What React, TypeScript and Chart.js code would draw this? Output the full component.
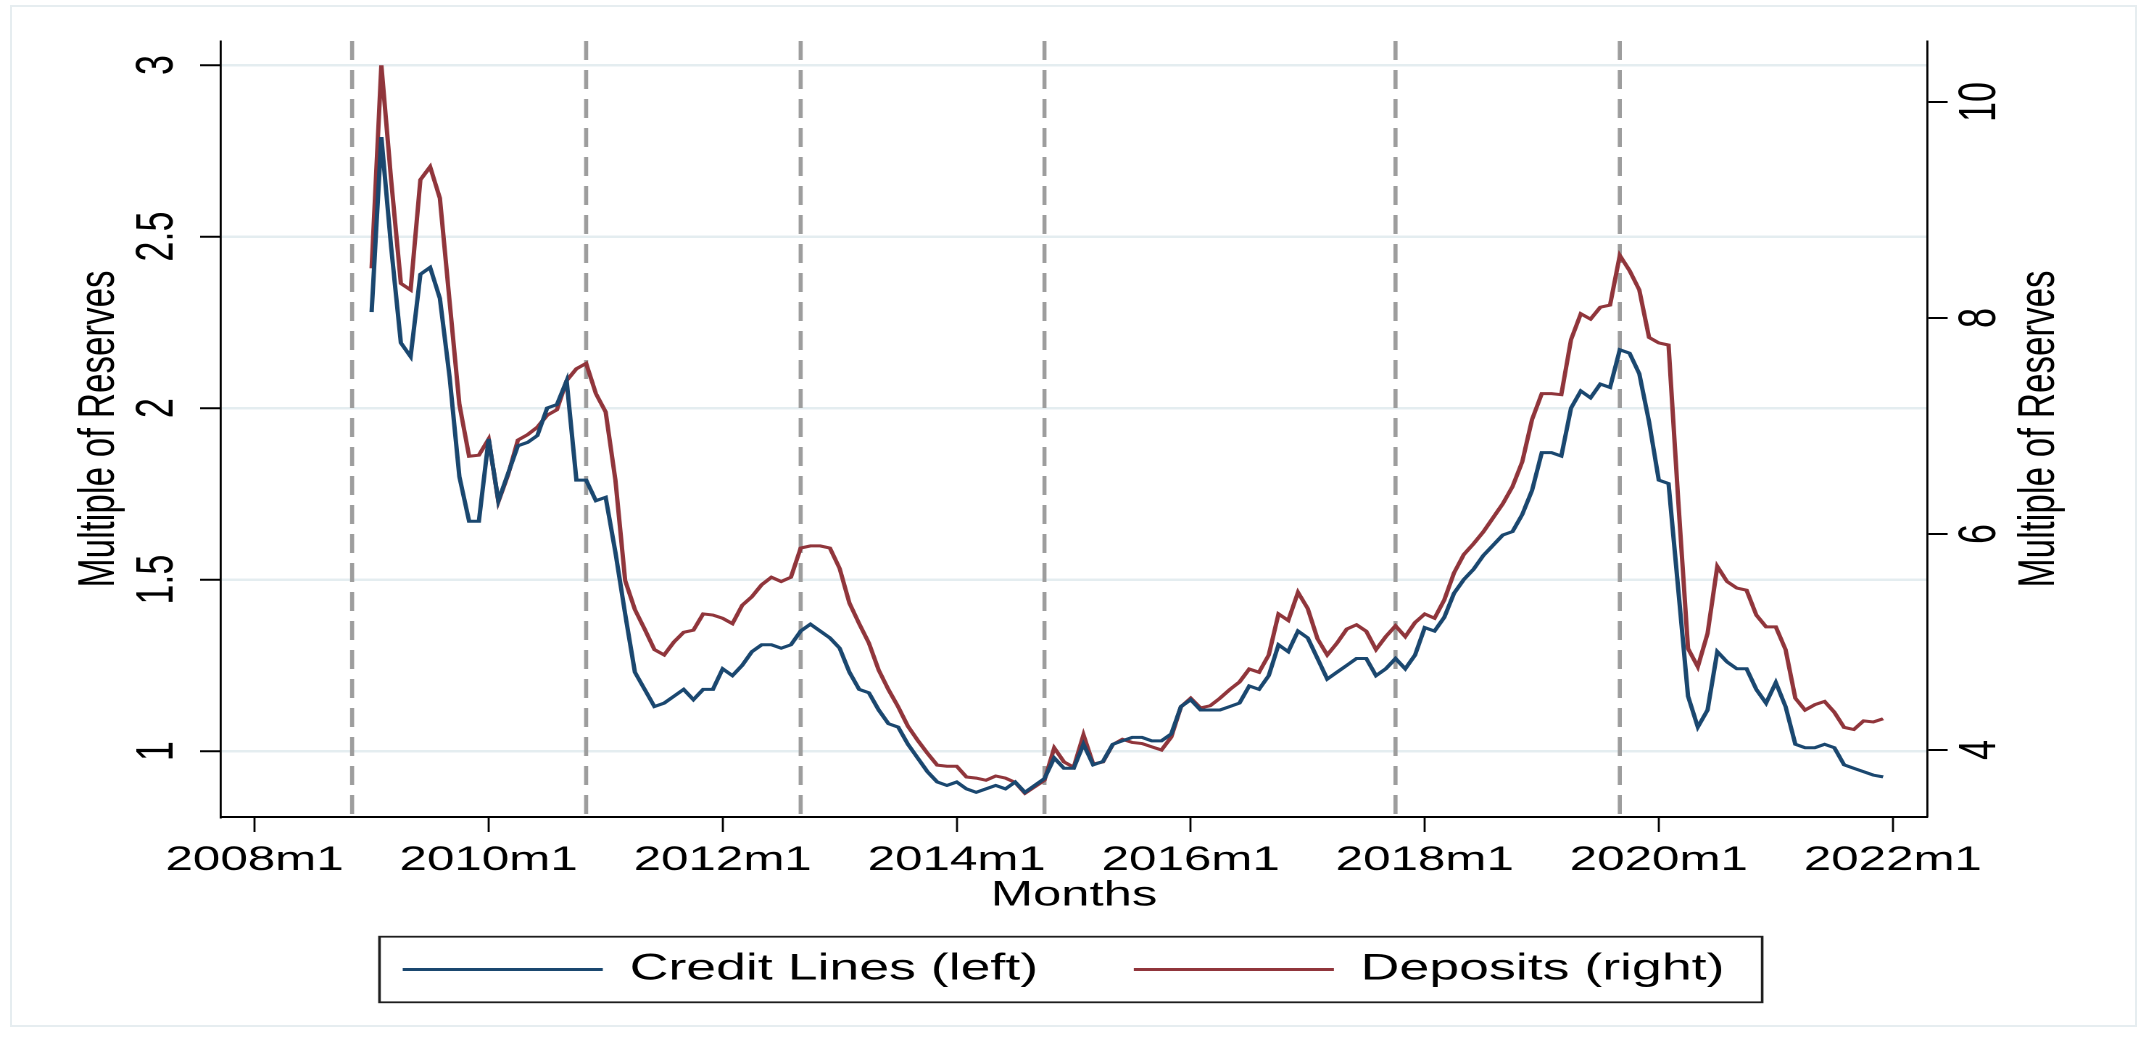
import React, { useEffect, useRef } from 'react';
import { Chart, registerables } from 'chart.js';

Chart.register(...registerables);

// ---------------- data ----------------
const firstMonth = '2009m1';

const creditLines = [
  2.28, 2.79, 2.47, 2.19, 2.15, 2.39, 2.41, 2.32,
  2.09, 1.80, 1.67, 1.67, 1.91, 1.73, 1.81, 1.89, 1.90, 1.92,
  2.00, 2.01, 2.08, 1.79, 1.79, 1.73, 1.74, 1.58, 1.40, 1.23,
  1.18, 1.13, 1.14, 1.16, 1.18, 1.15, 1.18, 1.18, 1.24, 1.22,
  1.25, 1.29, 1.31, 1.31, 1.30, 1.31, 1.35, 1.37, 1.35, 1.33,
  1.30, 1.23, 1.18, 1.17, 1.12, 1.08, 1.07, 1.02, 0.98, 0.94,
  0.91, 0.90, 0.91, 0.89, 0.88, 0.89, 0.90, 0.89, 0.91, 0.88,
  0.90, 0.92, 0.98, 0.95, 0.95, 1.02, 0.96, 0.97, 1.02, 1.03,
  1.04, 1.04, 1.03, 1.03, 1.05, 1.13, 1.15, 1.12, 1.12, 1.12,
  1.13, 1.14, 1.19, 1.18, 1.22, 1.31, 1.29, 1.35, 1.33, 1.27,
  1.21, 1.23, 1.25, 1.27, 1.27, 1.22, 1.24, 1.27, 1.24, 1.28,
  1.36, 1.35, 1.39, 1.46, 1.50, 1.53, 1.57, 1.60, 1.63, 1.64,
  1.69, 1.76, 1.87, 1.87, 1.86, 2.00, 2.05, 2.03, 2.07, 2.06,
  2.17, 2.16, 2.10, 1.96, 1.79, 1.78, 1.47, 1.16, 1.07, 1.12,
  1.29, 1.26, 1.24, 1.24, 1.18, 1.14, 1.20, 1.13, 1.02, 1.01,
  1.01, 1.02, 1.01, 0.96, 0.95, 0.94, 0.93, 0.925,
];

const deposits = [
  8.46, 10.34, 9.28, 8.32, 8.26, 9.28, 9.40, 9.11,
  8.15, 7.20, 6.72, 6.73, 6.88, 6.30, 6.55, 6.87, 6.92, 6.99,
  7.10, 7.15, 7.42, 7.53, 7.58, 7.30, 7.13, 6.50, 5.57, 5.30,
  5.12, 4.93, 4.88, 5.00, 5.09, 5.11, 5.26, 5.25, 5.22, 5.17,
  5.34, 5.42, 5.53, 5.60, 5.56, 5.60, 5.87, 5.89, 5.89, 5.87,
  5.68, 5.36, 5.17, 4.99, 4.74, 4.56, 4.40, 4.22, 4.09, 3.97,
  3.86, 3.85, 3.85, 3.75, 3.74, 3.72, 3.76, 3.74, 3.70, 3.60,
  3.66, 3.72, 4.02, 3.89, 3.84, 4.14, 3.87, 3.89, 4.05, 4.10,
  4.07, 4.06, 4.03, 4.00, 4.12, 4.40, 4.48, 4.39, 4.41, 4.48,
  4.56, 4.63, 4.75, 4.72, 4.88, 5.26, 5.20, 5.46, 5.31, 5.03,
  4.88, 4.99, 5.12, 5.16, 5.10, 4.93, 5.05, 5.15, 5.05, 5.18,
  5.26, 5.22, 5.39, 5.64, 5.81, 5.91, 6.02, 6.15, 6.28, 6.44,
  6.67, 7.06, 7.30, 7.30, 7.29, 7.80, 8.04, 7.99, 8.10, 8.12,
  8.58, 8.44, 8.26, 7.82, 7.77, 7.75, 6.30, 4.94, 4.77, 5.08,
  5.70, 5.56, 5.50, 5.48, 5.25, 5.14, 5.14, 4.93, 4.48, 4.37,
  4.42, 4.45, 4.35, 4.21, 4.19, 4.27, 4.26, 4.29,
];

const xTickLabels = ['2008m1', '2010m1', '2012m1', '2014m1', '2016m1', '2018m1', '2020m1', '2022m1'];
const leftTicks = [1, 1.5, 2, 2.5, 3];
const rightTicks = [4, 6, 8, 10];
const eventMonths = ['2008m11', '2010m11', '2012m9', '2014m10', '2017m10', '2019m9'];
const seriesLabels = ['Credit Lines (left)', 'Deposits (right)'];
const seriesColors = ['#1a476f', '#90353b'];
const axisTitle = 'Multiple of Reserves';
const xAxisTitle = 'Months';

// ---------------- layout ----------------
const FULL_W = 2146;
const FULL_H = 1045;
const STRETCH = 1.45;
const W = FULL_W / STRETCH; // inner (unstretched) width
const FONT = '"Liberation Sans", Arial, Helvetica, sans-serif';

function monthNum(label: string): number {
  const [y, m] = label.split('m').map(Number);
  return (y - 2008) * 12 + (m - 1);
}

const months = creditLines.map((_, i) => {
  const n = monthNum(firstMonth) + i;
  return `${2008 + Math.floor(n / 12)}m${(n % 12) + 1}`;
});

const eventLinesPlugin = {
  id: 'eventLines',
  beforeDatasetsDraw(chart: any) {
    const { ctx, chartArea, scales } = chart;
    const xs = scales.x;
    ctx.save();
    ctx.strokeStyle = '#9d9d9d';
    ctx.lineWidth = 2.8;
    ctx.setLineDash([19, 10]);
    eventMonths.forEach((m) => {
      const x = xs.getPixelForValue(monthNum(m));
      ctx.beginPath();
      ctx.moveTo(x, chartArea.top);
      ctx.lineTo(x, chartArea.bottom);
      ctx.stroke();
    });
    ctx.restore();
  },
};

const decorPlugin = {
  id: 'decor',
  afterDraw(chart: any) {
    const { ctx, chartArea, scales, legend } = chart;
    // right axis title (reads bottom-to-top, like the left one)
    const yr = scales.yR;
    ctx.save();
    ctx.translate(yr.left + 78, (chartArea.top + chartArea.bottom) / 2);
    ctx.rotate(-Math.PI / 2);
    ctx.font = `35px ${FONT}`;
    ctx.fillStyle = '#000';
    ctx.textAlign = 'center';
    ctx.textBaseline = 'middle';
    ctx.fillText(axisTitle, 0, 0);
    ctx.restore();

    // legend frame
    const hb = legend && legend.legendHitBoxes;
    if (hb && hb.length) {
      const first = hb[0];
      const last = hb[hb.length - 1];
      const left = first.left - 16;
      const right = last.left + last.width + 26;
      const cy = first.top + first.height / 2;
      ctx.save();
      ctx.strokeStyle = '#1e1e1e';
      ctx.lineWidth = 1.8;
      ctx.strokeRect(left, cy - 32.8, right - left, 65.6);
      ctx.restore();
    }
  },
};

export default function App() {
  const canvasRef = useRef<HTMLCanvasElement | null>(null);

  useEffect(() => {
    if (!canvasRef.current) return;
    const tickFont = { family: FONT, size: 34 };
    const yTickFont = { family: FONT, size: 36 };
    const chart = new Chart(canvasRef.current, {
      type: 'line',
      data: {
        datasets: [
          {
            label: seriesLabels[0],
            data: months.map((m, i) => ({ x: monthNum(m), y: creditLines[i] })),
            yAxisID: 'yL',
            borderColor: seriesColors[0],
            backgroundColor: seriesColors[0],
            borderWidth: 3,
            pointRadius: 0,
            tension: 0,
            fill: false,
          },
          {
            label: seriesLabels[1],
            data: months.map((m, i) => ({ x: monthNum(m), y: deposits[i] })),
            yAxisID: 'yR',
            borderColor: seriesColors[1],
            backgroundColor: seriesColors[1],
            borderWidth: 3,
            pointRadius: 0,
            tension: 0,
            fill: false,
          },
        ],
      },
      options: {
        animation: false,
        responsive: true,
        maintainAspectRatio: false,
        devicePixelRatio: 2,
        layout: { padding: { top: 41, left: 0, right: 13, bottom: 47 } },
        plugins: {
          tooltip: { enabled: false },
          legend: {
            position: 'bottom',
            labels: {
              boxWidth: 138,
              boxHeight: 3,
              padding: 66,
              color: '#000',
              font: { family: FONT, size: 37 },
              generateLabels: (ch: any) =>
                ch.data.datasets.map((ds: any, i: number) => ({
                  text: ds.label,
                  fillStyle: ds.borderColor,
                  strokeStyle: ds.borderColor,
                  lineWidth: 0,
                  hidden: false,
                  datasetIndex: i,
                  fontColor: '#000',
                })),
            },
          },
        },
        scales: {
          x: {
            type: 'linear',
            position: 'bottom',
            min: -3.446,
            max: 171.51,
            afterBuildTicks: (s: any) => {
              s.ticks = xTickLabels.map((l) => ({ value: monthNum(l) }));
            },
            afterFit: (s: any) => {
              s.height = 68;
            },
            ticks: {
              autoSkip: false,
              maxRotation: 0,
              minRotation: 0,
              padding: 8,
              color: '#000',
              font: tickFont,
              callback: (v: any) => xTickLabels.find((l) => monthNum(l) === v) ?? '',
            },
            grid: {
              drawOnChartArea: false,
              drawTicks: true,
              tickLength: 15,
              tickColor: '#000',
              tickWidth: 1.4,
            },
            border: { display: true, color: '#000', width: 2 },
            title: {
              display: true,
              text: xAxisTitle,
              color: '#000',
              font: { family: FONT, size: 35 },
              padding: { top: 0, bottom: -32 },
            },
          },
          yL: {
            type: 'linear',
            position: 'left',
            min: 0.808,
            max: 3.07,
            afterBuildTicks: (s: any) => {
              s.ticks = leftTicks.map((v) => ({ value: v }));
            },
            afterFit: (s: any) => {
              s.width = 152.4;
            },
            ticks: {
              minRotation: 90,
              maxRotation: 90,
              crossAlign: 'center',
              padding: 4,
              color: '#000',
              font: yTickFont,
              callback: (v: any) => String(v),
            },
            grid: {
              color: '#e4edf0',
              lineWidth: 2.5,
              drawTicks: true,
              tickLength: 14.4,
              tickColor: '#000',
              tickWidth: 2,
            },
            border: { display: true, color: '#000', width: 1.4 },
            title: {
              display: true,
              text: axisTitle,
              color: '#000',
              font: { family: FONT, size: 35 },
              padding: { top: 48, bottom: 0 },
            },
          },
          yR: {
            type: 'linear',
            position: 'right',
            min: 3.38,
            max: 10.565,
            afterBuildTicks: (s: any) => {
              s.ticks = rightTicks.map((v) => ({ value: v }));
            },
            afterFit: (s: any) => {
              s.width = 138;
            },
            ticks: {
              minRotation: 90,
              maxRotation: 90,
              crossAlign: 'center',
              padding: 3,
              color: '#000',
              font: yTickFont,
              callback: (v: any) => String(v),
            },
            grid: {
              drawOnChartArea: false,
              drawTicks: true,
              tickLength: 14.2,
              tickColor: '#000',
              tickWidth: 2,
            },
            border: { display: true, color: '#000', width: 1.4 },
          },
        },
      } as any,
      plugins: [eventLinesPlugin, decorPlugin],
    });
    return () => chart.destroy();
  }, []);

  return (
    <div
      style={{
        position: 'fixed',
        left: 0,
        top: 0,
        width: FULL_W,
        height: FULL_H,
        background: '#fff',
        overflow: 'hidden',
      }}
    >
      <div
        style={{
          position: 'absolute',
          left: 10,
          top: 5,
          width: 2127,
          height: 1022,
          boxSizing: 'border-box',
          border: '2px solid #e6edf0',
        }}
      />
      <div
        style={{
          position: 'absolute',
          left: 0,
          top: 0,
          width: W,
          height: FULL_H,
          transform: `scaleX(${STRETCH})`,
          transformOrigin: '0 0',
        }}
      >
        <canvas ref={canvasRef} />
      </div>
    </div>
  );
}
